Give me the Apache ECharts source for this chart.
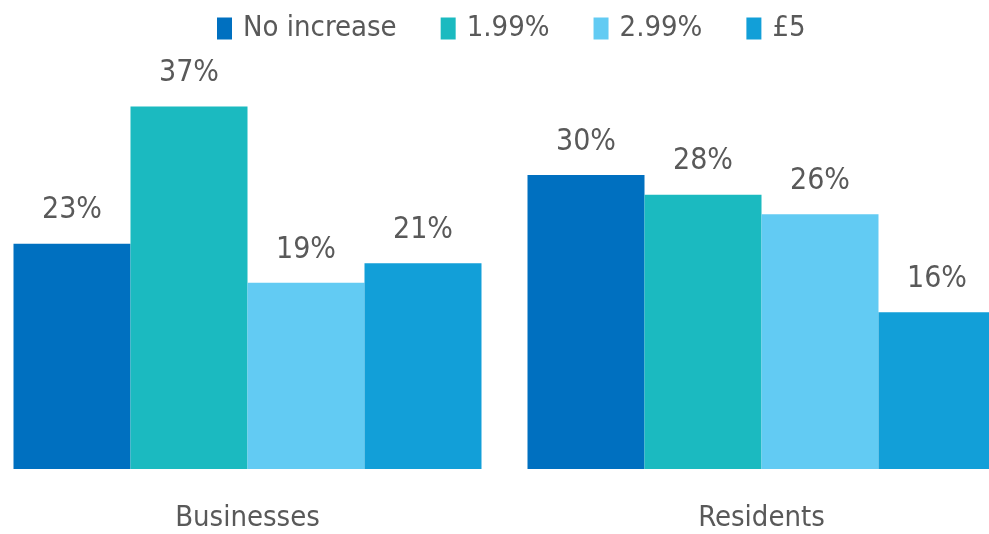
<!DOCTYPE html>
<html><head><meta charset="utf-8">
<script src="https://cdn.jsdelivr.net/npm/echarts@6/dist/echarts.min.js"></script>
<style>html,body{margin:0;padding:0;background:#fff}#c{width:989px;height:534px}</style>
</head><body><div id="c"></div>
<script>
const categories = ['Businesses', 'Residents'];
const seriesNames = ['No increase', '1.99%', '2.99%', '£5'];
const noIncrease = [23, 30];
const p199 = [37, 28];
const p299 = [19, 26];
const p5 = [21, 16];
const colors = ['#0070C0', '#1BBAC0', '#62CBF3', '#129FD8'];
const FONT = '"Liberation Sans Narrow", "DejaVu Sans Condensed", sans-serif';
const values = [noIncrease, p199, p299, p5];
const chart = echarts.init(document.getElementById('c'));
chart.setOption({
  animation: false,
  color: colors,
  legend: {
    top: 9, left: 212,
    itemWidth: 15, itemHeight: 22, itemGap: 44,
    icon: 'rect',
    textStyle: { fontFamily: FONT, fontSize: 29, color: '#595959', padding: [0, 0, 0, 6] },
    data: seriesNames
  },
  grid: { left: -9.5, width: 1028, top: 80, bottom: 65, containLabel: false, outerBoundsMode: 'none' },
  xAxis: {
    type: 'category', data: categories,
    axisLine: { show: false }, axisTick: { show: false },
    axisLabel: { fontFamily: FONT, fontSize: 29, color: '#595959', margin: 35 }
  },
  yAxis: { type: 'value', min: 0, max: 39.7, show: false, splitLine: { show: false } },
  series: seriesNames.map((n, i) => ({
    name: n, type: 'bar', data: values[i],
    barGap: '0%', barCategoryGap: '8.95%',
    label: { show: true, position: 'top', distance: 18, formatter: '{c}%',
      fontFamily: FONT, fontSize: 30, color: '#595959' }
  }))
});
</script></body></html>
